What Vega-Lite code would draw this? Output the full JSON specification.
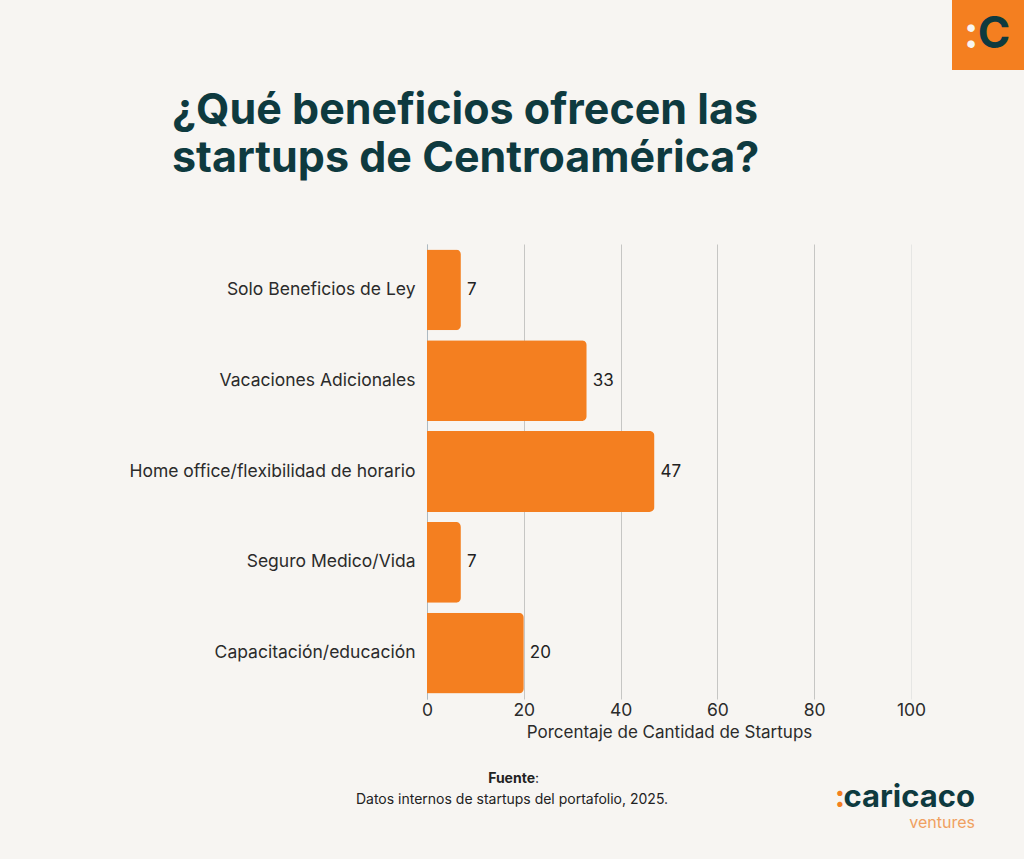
{
  "$schema": "https://vega.github.io/schema/vega-lite/v6.json",
  "background": "#F7F5F2",
  "padding": 0,
  "autosize": {"type": "pad"},
  "bounds": "flush",
  "spacing": 0,
  "config": {
    "view": {"stroke": null},
    "font": "Inter",
    "concat": {"spacing": 0}
  },
  "vconcat": [
    {
      "bounds": "flush",
      "spacing": 0,
      "hconcat": [
        {"width": 952, "height": 70, "data": {"values": []}, "mark": "text"},
        {
          "width": 72,
          "height": 70,
          "view": {"fill": "#F47F20", "stroke": null},
          "data": {"values": [{"colon": ":", "letter": "C"}]},
          "layer": [
            {"mark": {"type": "text", "fontSize": 44, "fontWeight": "bold", "color": "#F7F5F2", "dx": -17, "baseline": "middle"}, "encoding": {"text": {"field": "colon"}}},
            {"mark": {"type": "text", "fontSize": 44, "fontWeight": "bold", "color": "#0E3A3F", "dx": 6, "baseline": "middle"}, "encoding": {"text": {"field": "letter"}}}
          ]
        }
      ]
    },
    {"width": 1024, "height": 244, "data": {"values": []}, "mark": "text"},
    {
      "bounds": "flush",
      "spacing": 0,
      "hconcat": [
        {"width": 427, "height": 455, "data": {"values": []}, "mark": "text"},
        {
          "width": 484,
          "height": 455,
          "title": {
            "text": ["¿Qué beneficios ofrecen las", "startups de Centroamérica?"],
            "anchor": "start",
            "frame": "group",
            "dx": -255,
            "offset": 63,
            "fontSize": 43,
            "fontWeight": "bold",
            "color": "#0E3A3F",
            "lineHeight": 48,
            "font": "Inter"
          },
          "data": {
            "values": [
              {"beneficio": "Solo Beneficios de Ley", "pct": 7},
              {"beneficio": "Vacaciones Adicionales", "pct": 33},
              {"beneficio": "Home office/flexibilidad de horario", "pct": 47},
              {"beneficio": "Seguro Medico/Vida", "pct": 7},
              {"beneficio": "Capacitación/educación", "pct": 20}
            ]
          },
          "encoding": {
            "y": {
              "field": "beneficio",
              "type": "nominal",
              "sort": null,
              "scale": {"paddingInner": 0.11, "paddingOuter": 0.06},
              "axis": {
                "title": null,
                "labelFontSize": 17.5,
                "labelColor": "#2B2B2B",
                "labelPadding": 12,
                "labelLimit": 400,
                "ticks": false,
                "grid": false,
                "domainColor": "#AEBAC2"
              }
            },
            "x": {
              "field": "pct",
              "type": "quantitative",
              "scale": {"domain": [0, 100]},
              "axis": {
                "title": "Porcentaje de Cantidad de Startups",
                "values": [0, 20, 40, 60, 80, 100],
                "grid": true,
                "gridColor": {"condition": {"test": "datum.value === 100", "value": "#E6E6E4"}, "value": "#C6C6C4"},
                "domain": false,
                "ticks": false,
                "labelFlush": false,
                "labelFontSize": 17.5,
                "labelColor": "#2B2B2B",
                "labelPadding": 2,
                "titleFontSize": 17,
                "titleFontWeight": "normal",
                "titleColor": "#2B2B2B",
                "titlePadding": 6
              }
            }
          },
          "layer": [
            {"mark": {"type": "bar", "color": "#F47F20", "cornerRadiusEnd": 5}},
            {"mark": {"type": "text", "align": "left", "dx": 6, "fontSize": 17, "color": "#222222"}, "encoding": {"text": {"field": "pct", "type": "quantitative"}}}
          ]
        }
      ]
    },
    {"width": 1024, "height": 455, "data": {"values": []}, "mark": "text"},
    {
      "width": 1024,
      "height": 160,
      "data": {"values": [{"fuente": "Fuente", "colon": ":", "detalle": "Datos internos de startups del portafolio, 2025.", "marca": "caricaco", "sub": "ventures"}]},
      "layer": [
        {"mark": {"type": "text", "fontSize": 14, "fontWeight": "bold", "color": "#222222", "baseline": "middle", "align": "right", "dx": 23, "dy": 0}, "encoding": {"text": {"field": "fuente"}}},
        {"mark": {"type": "text", "fontSize": 14, "color": "#222222", "baseline": "middle", "align": "left", "dx": 23, "dy": 0}, "encoding": {"text": {"field": "colon"}}},
        {"mark": {"type": "text", "fontSize": 14, "color": "#222222", "baseline": "middle", "dy": 21}, "encoding": {"text": {"field": "detalle"}}},
        {"mark": {"type": "text", "fontSize": 31, "fontWeight": "bold", "color": "#F47F20", "align": "right", "baseline": "middle", "dx": 333, "dy": 19}, "encoding": {"text": {"field": "colon"}}},
        {"mark": {"type": "text", "fontSize": 31, "fontWeight": "bold", "color": "#0E3A3F", "align": "right", "baseline": "middle", "dx": 463, "dy": 19}, "encoding": {"text": {"field": "marca"}}},
        {"mark": {"type": "text", "fontSize": 16, "color": "#F0A060", "align": "right", "baseline": "middle", "dx": 463, "dy": 44}, "encoding": {"text": {"field": "sub"}}}
      ]
    }
  ]
}
